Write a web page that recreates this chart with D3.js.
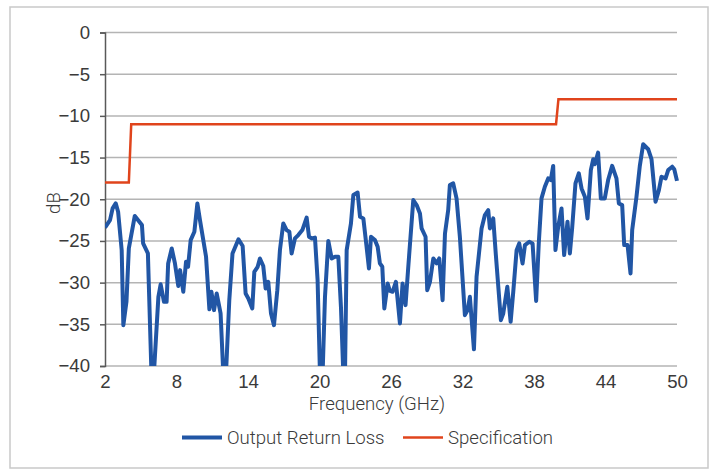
<!DOCTYPE html>
<html><head><meta charset="utf-8">
<script src="https://cdn.jsdelivr.net/npm/d3@7"></script>
<style>body{margin:0;background:#fff;}svg{display:block;font-family:Roboto,"Noto Sans",sans-serif;}</style>
</head><body><svg id="c" width="717" height="470"></svg>
<script>
const xTicks = [2, 8, 14, 20, 26, 32, 38, 44, 50];
const yTicks = [0, -5, -10, -15, -20, -25, -30, -35, -40];
const seriesNames = ["Output Return Loss", "Specification"];
const lossFreq = [2.0,2.42,2.64,2.9,3.1,3.4,3.54,3.8,4.0,4.5,5.1,5.2,5.6,5.9,6.1,6.48,6.67,6.95,7.17,7.3,7.6,7.87,8.15,8.3,8.57,8.8,8.97,9.19,9.5,9.75,9.97,10.48,10.76,10.93,11.15,11.37,11.7,11.93,12.15,12.43,12.7,13.2,13.55,13.8,14.03,14.36,14.53,14.81,15.0,15.28,15.48,15.7,15.93,16.18,16.46,16.68,16.96,17.24,17.47,17.66,17.94,18.22,18.56,18.92,19.12,19.34,19.62,19.84,20.04,20.26,20.46,20.74,21.02,21.3,21.58,21.8,22.0,22.14,22.28,22.64,22.84,23.2,23.4,23.68,23.95,24.15,24.32,24.65,24.88,25.07,25.27,25.44,25.72,25.91,26.13,26.41,26.75,26.97,27.22,27.45,27.87,28.15,28.43,28.57,28.9,29.04,29.27,29.55,29.83,30.05,30.33,30.53,30.8,30.94,31.22,31.5,31.78,32.2,32.43,32.62,32.96,33.18,33.6,33.88,34.16,34.3,34.58,34.8,35.22,35.42,35.76,36.04,36.26,36.54,36.76,37.04,37.24,37.6,37.88,38.18,38.4,38.63,38.91,39.19,39.41,39.61,39.8,40.03,40.31,40.53,40.81,41.01,41.2,41.48,41.76,41.99,42.27,42.49,42.77,42.97,43.1,43.38,43.61,43.94,44.22,44.56,44.92,45.12,45.4,45.57,45.85,46.1,46.24,46.6,46.88,47.16,47.58,47.86,48.2,48.48,48.7,49.04,49.26,49.6,49.77,50.0];
const lossDb = [-23.4,-22.5,-21.1,-20.5,-21.5,-26.1,-35.1,-32.3,-25.9,-22.0,-23.1,-25.3,-26.5,-41,-41,-31.7,-30.2,-32.3,-32.3,-27.7,-25.9,-27.7,-30.4,-28.5,-31.1,-27.5,-28.1,-24.9,-23.9,-20.5,-22.5,-26.9,-33.2,-31.1,-33.3,-31.3,-33.7,-41,-41,-32.1,-26.5,-24.8,-25.6,-31.3,-31.9,-33.1,-28.7,-28.1,-27.1,-28.0,-30.7,-29.9,-33.7,-35.1,-30.9,-26.1,-22.9,-23.7,-23.9,-26.5,-24.7,-24.3,-23.7,-22.2,-24.5,-24.7,-24.6,-29.7,-41,-41,-31.7,-25.0,-27.1,-26.9,-26.9,-32.9,-41,-41,-26.1,-22.9,-19.5,-19.2,-22.1,-22.3,-25.7,-28.3,-24.5,-24.9,-25.7,-27.7,-28.1,-33.1,-30.1,-31.0,-31.1,-29.9,-34.9,-30.1,-32.7,-28.1,-20.1,-20.7,-21.7,-23.5,-24.5,-30.9,-29.9,-27.1,-27.7,-27.1,-32.1,-24.1,-21.3,-18.3,-18.1,-19.9,-24.5,-33.9,-33.3,-31.7,-38.0,-29.3,-23.5,-21.9,-21.3,-23.5,-22.3,-26.7,-34.5,-33.7,-30.5,-34.7,-31.1,-26.1,-25.3,-27.7,-25.5,-25.1,-25.3,-32.2,-25.3,-19.9,-18.5,-17.5,-17.7,-16.0,-26.1,-23.3,-21.1,-26.7,-22.7,-26.5,-23.5,-18.1,-16.9,-18.7,-19.7,-22.3,-16.5,-15.2,-15.8,-14.4,-19.9,-19.9,-17.7,-16.0,-17.5,-20.5,-20.7,-25.5,-25.5,-28.9,-23.7,-19.7,-16.0,-13.4,-14.0,-15.2,-20.3,-18.9,-17.3,-17.5,-16.5,-16.1,-16.4,-17.8];
const specFreq = [2, 4.0, 4.2, 39.85, 40.05, 50];
const specDb = [-18, -18, -11, -11, -8, -8];

const svg = d3.select("#c");
const m = {l: 105, r: 677, t: 32.5, b: 366};
const x = d3.scaleLinear().domain([2, 50]).range([m.l, m.r]);
const y = d3.scaleLinear().domain([-40, 0]).range([m.b, m.t]);
const textCol = "#3a3a3a";
const fs = "18.6px";
const fw = 300;

svg.append("rect").attr("x", 10).attr("y", 7).attr("width", 698).attr("height", 461)
  .attr("fill", "#fff").attr("stroke", "#c9c9c9").attr("stroke-width", 1.5);

svg.append("g").selectAll("line").data(yTicks).join("line")
  .attr("x1", m.l).attr("x2", m.r).attr("y1", d => y(d)).attr("y2", d => y(d))
  .attr("stroke", "#b4b4b4").attr("stroke-width", 1.5);

const yAxis = svg.append("g").attr("transform", `translate(${m.l},0)`)
  .call(d3.axisLeft(y).tickValues(yTicks).tickSize(5).tickPadding(10)
    .tickFormat(d => d === 0 ? "0" : "\u2212" + Math.abs(d)));
yAxis.select(".domain").attr("stroke", "#595959").attr("stroke-width", 1.5);
yAxis.selectAll(".tick line").attr("stroke", "#595959").attr("stroke-width", 1.5);
yAxis.selectAll(".tick text").attr("fill", textCol).style("font-size", fs).style("font-weight", fw);

const xAxis = svg.append("g").attr("transform", `translate(0,${m.b})`)
  .call(d3.axisBottom(x).tickValues(xTicks).tickSize(0).tickPadding(9).tickFormat(d3.format("d")));
xAxis.select(".domain").remove();
xAxis.selectAll(".tick text").attr("fill", textCol).style("font-size", fs).style("font-weight", fw);

svg.append("clipPath").attr("id", "clip").append("rect")
  .attr("x", m.l).attr("y", m.t - 10).attr("width", m.r - m.l + 5).attr("height", m.b - m.t + 10);

const lossData = lossFreq.map((f, i) => [f, lossDb[i]]);
const specData = specFreq.map((f, i) => [f, specDb[i]]);
const line = d3.line().x(d => x(d[0])).y(d => y(d[1]));

svg.append("path").datum(lossData).attr("clip-path", "url(#clip)")
  .attr("d", line).attr("fill", "none").attr("stroke", "#2156a5")
  .attr("stroke-width", 4).attr("stroke-linejoin", "round");
svg.append("path").datum(specData)
  .attr("d", line).attr("fill", "none").attr("stroke", "#e0441c")
  .attr("stroke-width", 2.5);

svg.append("text").attr("x", 377).attr("y", 410).attr("text-anchor", "middle")
  .attr("fill", textCol).style("font-size", fs).style("font-weight", fw).text("Frequency (GHz)");
svg.append("text").attr("transform", "translate(60,203) rotate(-90)").attr("text-anchor", "middle")
  .attr("fill", textCol).style("font-size", fs).style("font-weight", fw).text("dB");

const leg = svg.append("g");
const legItems = [
  {name: seriesNames[0], color: "#2156a5", w: 4, x0: 182},
  {name: seriesNames[1], color: "#e0441c", w: 2.5, x0: 403}
];
legItems.forEach(it => {
  leg.append("line").attr("x1", it.x0).attr("x2", it.x0 + 40).attr("y1", 437.5).attr("y2", 437.5)
    .attr("stroke", it.color).attr("stroke-width", it.w);
  leg.append("text").attr("x", it.x0 + 45).attr("y", 444).attr("fill", textCol)
    .style("font-size", fs).style("font-weight", fw).text(it.name);
});
</script></body></html>
